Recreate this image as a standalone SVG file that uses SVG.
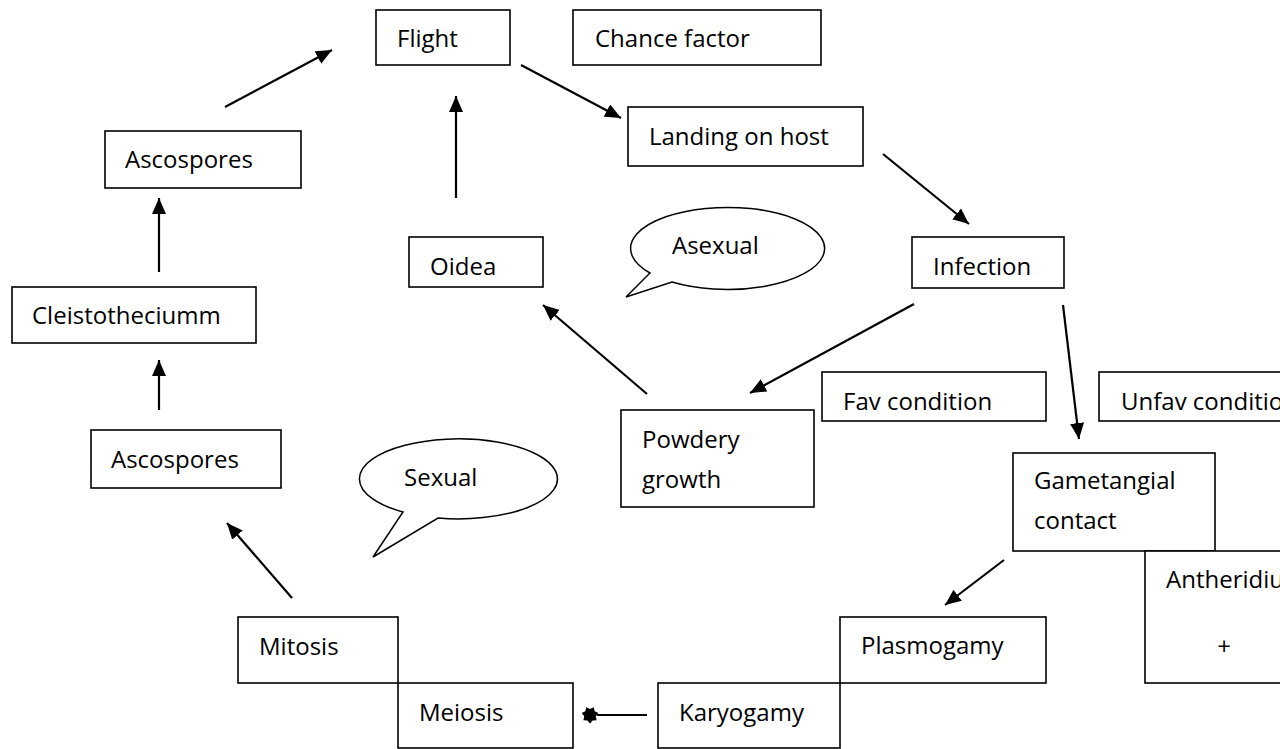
<svg xmlns="http://www.w3.org/2000/svg" width="1280" height="749" viewBox="0 0 1280 749">
<defs>
<style>
.box{fill:#fff;stroke:#000;stroke-width:1.6}
.t{font-family:"Open Sans","Liberation Sans",sans-serif;font-size:24px;fill:#000}
.c{fill:none;stroke:#000;stroke-width:2.2}
.bub{fill:#fff;stroke:#000;stroke-width:1.5;stroke-linejoin:miter}
</style>
<marker id="ah" markerUnits="userSpaceOnUse" viewBox="0 0 16 14" refX="16" refY="7" markerWidth="16" markerHeight="14" orient="auto">
<path d="M0,0 L16,7 L0,14 Z" fill="#000"/>
</marker>
<marker id="star" markerUnits="userSpaceOnUse" viewBox="-10 -10 20 20" refX="-7" refY="0" markerWidth="20" markerHeight="20" orient="auto">
<path d="M0,-8.5 L2.6,-5.4 L6.6,-5.3 L5.8,-1.3 L8.3,1.9 L4.7,3.7 L3.7,7.7 L0,6 L-3.7,7.7 L-4.7,3.7 L-8.3,1.9 L-5.8,-1.3 L-6.6,-5.3 L-2.6,-5.4 Z" fill="#000"/>
</marker>
</defs>
<rect width="1280" height="749" fill="#fff"/>

<g id="flight"><rect class="box" x="376" y="10" width="134" height="55"/><text class="t" x="397" y="47">Flight</text></g>
<g id="chance"><rect class="box" x="573" y="10" width="248" height="55"/><text class="t" x="595" y="47">Chance factor</text></g>
<g id="landing"><rect class="box" x="628" y="107" width="235" height="59"/><text class="t" x="649" y="145">Landing on host</text></g>
<g id="infection"><rect class="box" x="912" y="237" width="152" height="51"/><text class="t" x="933" y="275">Infection</text></g>
<g id="oidea"><rect class="box" x="409" y="237" width="134" height="50"/><text class="t" x="430" y="275">Oidea</text></g>
<g id="asexual"><path class="bub" d="M650,273 A97,41 0 1 1 672,282 L626,297 Z"/><text class="t" x="672" y="254">Asexual</text></g>
<g id="ascospores1"><rect class="box" x="105" y="131" width="196" height="57"/><text class="t" x="125" y="168">Ascospores</text></g>
<g id="cleisto"><rect class="box" x="12" y="287" width="244" height="56"/><text class="t" x="32" y="324">Cleistotheciumm</text></g>
<g id="ascospores2"><rect class="box" x="91" y="430" width="190" height="58"/><text class="t" x="111" y="468">Ascospores</text></g>
<g id="sexual"><path class="bub" d="M403,512 A99,40 0 1 1 438,518 L373,557 Z"/><text class="t" x="404" y="486">Sexual</text></g>
<g id="powdery"><rect class="box" x="621" y="410" width="193" height="97"/><text class="t" x="642" y="448">Powdery</text><text class="t" x="642" y="488">growth</text></g>
<g id="fav"><rect class="box" x="822" y="372" width="224" height="49"/><text class="t" x="843" y="410">Fav condition</text></g>
<g id="unfav"><rect class="box" x="1099" y="372" width="200" height="49"/><text class="t" x="1121" y="410">Unfav condition</text></g>
<g id="gametangial"><rect class="box" x="1013" y="453" width="202" height="98"/><text class="t" x="1034" y="489">Gametangial</text><text class="t" x="1034" y="529">contact</text></g>
<g id="antheridium"><rect class="box" x="1145" y="551" width="160" height="132"/><text class="t" x="1166" y="588">Antheridium</text><text class="t" x="1224" y="655" text-anchor="middle">+</text></g>
<g id="plasmogamy"><rect class="box" x="840" y="617" width="206" height="66"/><text class="t" x="861" y="654">Plasmogamy</text></g>
<g id="mitosis"><rect class="box" x="238" y="617" width="160" height="66"/><text class="t" x="259" y="655">Mitosis</text></g>
<g id="meiosis"><rect class="box" x="398" y="683" width="175" height="65"/><text class="t" x="419" y="721">Meiosis</text></g>
<g id="karyogamy"><rect class="box" x="658" y="683" width="182" height="65"/><text class="t" x="679" y="721">Karyogamy</text></g>

<g id="connectors">
<line class="c" x1="225" y1="107" x2="332" y2="50" marker-end="url(#ah)"/>
<line class="c" x1="456" y1="198" x2="456" y2="96" marker-end="url(#ah)"/>
<line class="c" x1="521" y1="65" x2="621" y2="118" marker-end="url(#ah)"/>
<line class="c" x1="883" y1="154" x2="969" y2="224" marker-end="url(#ah)"/>
<line class="c" x1="914" y1="304" x2="750" y2="393" marker-end="url(#ah)"/>
<line class="c" x1="1063" y1="305" x2="1079" y2="439" marker-end="url(#ah)"/>
<line class="c" x1="647" y1="394" x2="543" y2="305" marker-end="url(#ah)"/>
<line class="c" x1="1004" y1="560" x2="945" y2="605" marker-end="url(#ah)"/>
<line class="c" x1="647" y1="715" x2="597" y2="715" marker-end="url(#star)"/>
<line class="c" x1="292" y1="598" x2="227" y2="523" marker-end="url(#ah)"/>
<line class="c" x1="159" y1="410" x2="159" y2="360" marker-end="url(#ah)"/>
<line class="c" x1="159" y1="272" x2="159" y2="198" marker-end="url(#ah)"/>
</g>
</svg>
